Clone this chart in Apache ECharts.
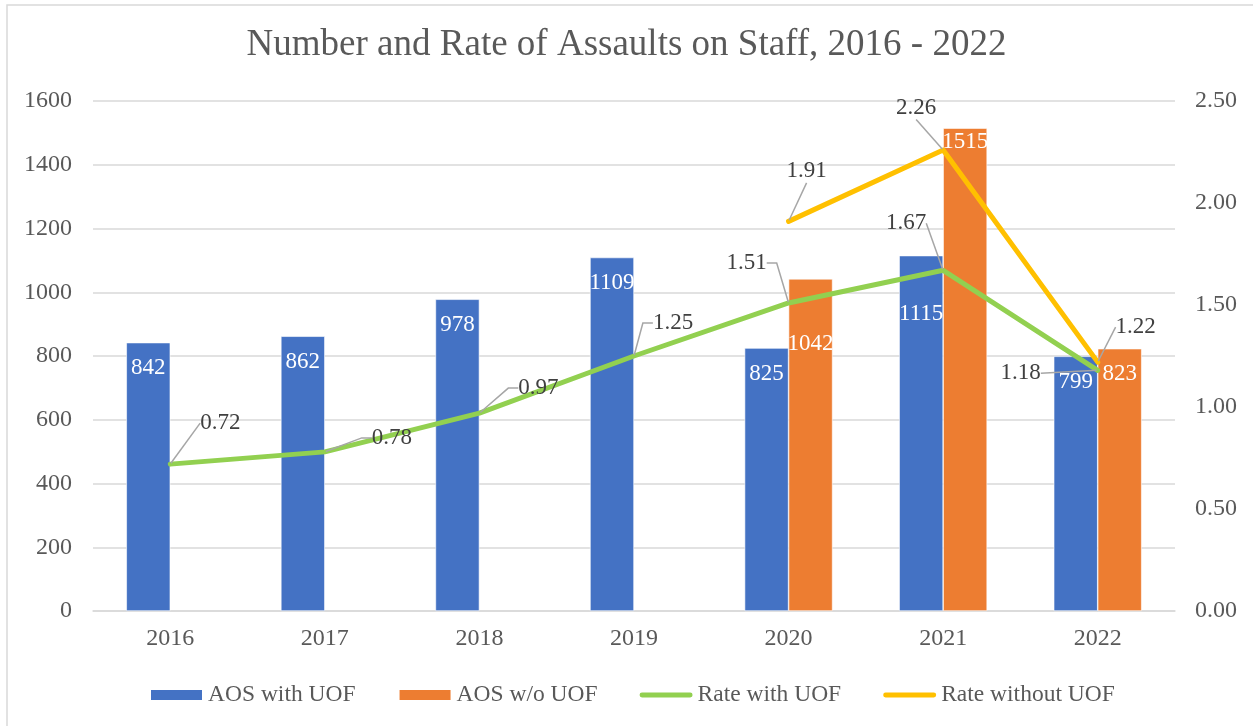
<!DOCTYPE html>
<html>
<head>
<meta charset="utf-8">
<script src="https://cdn.jsdelivr.net/npm/echarts@6/dist/echarts.min.js"></script>
<style>
html,body{margin:0;padding:0;background:#fff;}
#chart{width:1253px;height:726px;}
</style>
</head>
<body>
<div id="chart"></div>
<script>
const categories = ['2016','2017','2018','2019','2020','2021','2022'];
const aosWithUOF = [842, 862, 978, 1109, 825, 1115, 799];
const aosWithoutUOF = [null, null, null, null, 1042, 1515, 823];
const rateWithUOF = [0.72, 0.78, 0.97, 1.25, 1.51, 1.67, 1.18];
const rateWithoutUOF = [null, null, null, null, 1.91, 2.26, 1.22];
const leftTicks = [0, 200, 400, 600, 800, 1000, 1200, 1400, 1600];
const rightTicks = [0, 0.5, 1.0, 1.5, 2.0, 2.5];

// label placement (styling only)
const blueLabelShift = [0, 0, 0, 0, 0, 33, 0];
const orangeLabelShift = [0, 0, 0, 0, 40, -12, 0];
const rateWithOffsets = [[50,-41],[67,-14],[59,-25],[39,-33],[-42,-40],[-37,-47],[-77,3]];
const rateWithGuideElbow = [0, 10, 10, 10, 10, 0, 0];
const rateWithoutOffsets = [[0,0],[0,0],[0,0],[0,0],[18,-50],[-27,-42],[38,-35]];

const serif = '"Liberation Serif","Times New Roman",serif';
const textGrey = '#595959';

function barData(vals, shifts){
  return vals.map((v,i)=> v === null ? null : ({value: v, label: {offset: [0, shifts[i]]}}));
}
function lineData(vals, elbows){
  return vals.map((v,i)=> v === null ? null : ({value: v, labelLine: {length2: elbows[i]}}));
}

const chart = echarts.init(document.getElementById('chart'));
const barLabel = {show:true, position:'insideTop', distance:14, color:'#fff', fontFamily:serif, fontSize:23};
const lineLabel = {show:true, position:'inside', color:'#404040', fontFamily:serif, fontSize:23,
  formatter: p => Number(p.value).toFixed(2)};
const guide = {show:true, lineStyle:{color:'#a6a6a6', width:1.5}, smooth:false, length2:0};
const lineIcon = 'path://M2.5,0 L52.5,0 A2.5,2.5 0 0 1 52.5,5 L2.5,5 A2.5,2.5 0 0 1 2.5,0 Z';

chart.setOption({
  animation:false,
  graphic:[{type:'rect', shape:{x:7, y:5, width:1300, height:800}, style:{fill:'none', stroke:'#d9d9d9', lineWidth:1.5}, silent:true}],
  title:{text:'Number and Rate of Assaults on Staff, 2016 - 2022', left:'center', top:22,
    textStyle:{fontFamily:serif, fontSize:37, fontWeight:'normal', color:textGrey}},
  grid:{left:93, right:78, top:101, bottom:115, containLabel:false},
  legend:{left:144, top:678, itemWidth:53, itemHeight:12, itemGap:42,
    textStyle:{fontFamily:serif, fontSize:23.5, color:textGrey},
    data:[
      {name:'AOS with UOF', icon:'rect'},
      {name:'AOS w/o UOF', icon:'rect'},
      {name:'Rate with UOF', icon:lineIcon},
      {name:'Rate without UOF', icon:lineIcon}
    ]},
  xAxis:{type:'category', data:categories,
    axisLine:{lineStyle:{color:'#d9d9d9', width:1.5}}, axisTick:{show:false},
    axisLabel:{fontFamily:serif, fontSize:24, color:textGrey, margin:16}},
  yAxis:[
    {type:'value', min:leftTicks[0], max:leftTicks[leftTicks.length-1], interval:200,
     axisLine:{show:false}, axisTick:{show:false},
     axisLabel:{fontFamily:serif, fontSize:24, color:textGrey, margin:21, formatter: v => String(v)},
     splitLine:{lineStyle:{color:'#d9d9d9', width:1.5}}},
    {type:'value', min:rightTicks[0], max:rightTicks[rightTicks.length-1], interval:0.5,
     axisLine:{show:false}, axisTick:{show:false},
     axisLabel:{fontFamily:serif, fontSize:24, color:textGrey, margin:20, formatter: v => v.toFixed(2)},
     splitLine:{show:false}}
  ],
  series:[
    {name:'AOS with UOF', type:'bar', data:barData(aosWithUOF, blueLabelShift), barWidth:44, barGap:'0%',
     itemStyle:{color:'#4472C4', borderColor:'#ffffff', borderWidth:0.6}, label:barLabel, z:2},
    {name:'AOS w/o UOF', type:'bar', data:barData(aosWithoutUOF, orangeLabelShift), barWidth:44, barGap:'0%',
     itemStyle:{color:'#ED7D31', borderColor:'#ffffff', borderWidth:0.6}, label:barLabel, z:2},
    {name:'Rate with UOF', type:'line', yAxisIndex:1, data:lineData(rateWithUOF, rateWithGuideElbow), symbol:'circle', symbolSize:2,
     itemStyle:{color:'#92D050'}, lineStyle:{color:'#92D050', width:5, cap:'round', join:'round'},
     label:lineLabel, labelLine:guide,
     labelLayout: p => ({dx: rateWithOffsets[p.dataIndex][0], dy: rateWithOffsets[p.dataIndex][1]}), z:5},
    {name:'Rate without UOF', type:'line', yAxisIndex:1, data:rateWithoutUOF, symbol:'circle', symbolSize:2,
     itemStyle:{color:'#FFC000'}, lineStyle:{color:'#FFC000', width:5, cap:'round', join:'round'},
     label:lineLabel, labelLine:guide,
     labelLayout: p => ({dx: rateWithoutOffsets[p.dataIndex][0], dy: rateWithoutOffsets[p.dataIndex][1]}), z:4}
  ]
});
</script>
</body>
</html>
